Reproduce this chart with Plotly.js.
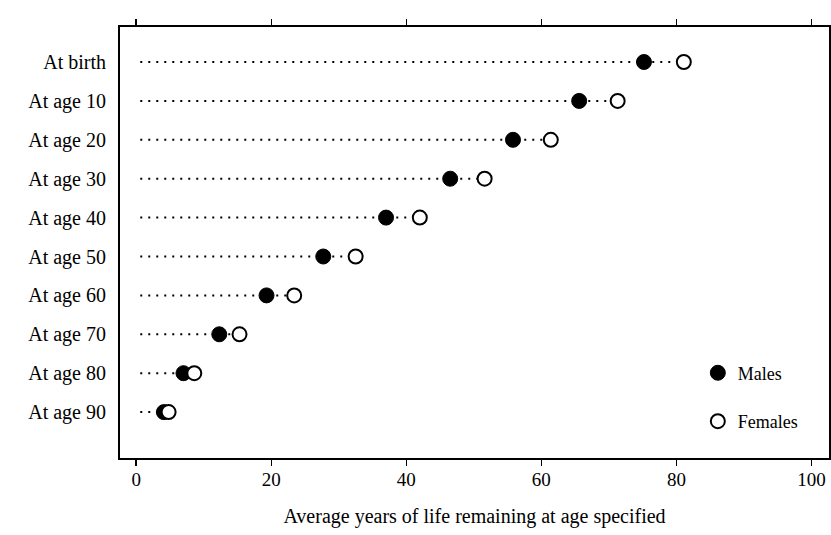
<!DOCTYPE html>
<html>
<head>
<meta charset="utf-8">
<script src="https://cdn.plot.ly/plotly-3.0.1.min.js"></script>
<style>html,body{margin:0;padding:0;background:#fff;}#chart{width:831px;height:535px;}</style>
</head>
<body>
<div id="chart"></div>
<script>
var categories = ["At birth", "At age 10", "At age 20", "At age 30", "At age 40",
                  "At age 50", "At age 60", "At age 70", "At age 80", "At age 90"];
var males   = [75.2, 65.6, 55.8, 46.5, 37.0, 27.7, 19.3, 12.3, 7.0, 4.1];
var females = [81.1, 71.3, 61.4, 51.6, 42.0, 32.5, 23.4, 15.3, 8.6, 4.8];
var xTicks = [0, 20, 40, 60, 80, 100];
var xTitle = "Average years of life remaining at age specified";

var serif = "Liberation Serif, Times New Roman, serif";

// dotted guide lines from 0 to the larger value of each row
var lineX = [], lineY = [];
categories.forEach(function (c, i) {
  lineX.push(0.6, Math.max(males[i], females[i]), null);
  lineY.push(c, c, null);
});

var traces = [
  {
    x: lineX, y: lineY, mode: "lines", type: "scatter",
    line: {color: "#000", width: 2, dash: "2px,6px"},
    showlegend: false, hoverinfo: "skip"
  },
  {
    x: males, y: categories, mode: "markers", type: "scatter", name: "Males",
    legendgroup: "m",
    marker: {symbol: "circle", size: 15, color: "#000", line: {color: "#000", width: 1}}
  },
  {
    x: females, y: categories, mode: "markers", type: "scatter", name: "Females",
    legendgroup: "f",
    marker: {symbol: "circle", size: 14, color: "#fff", line: {color: "#000", width: 2}}
  }
];

var layout = {
  width: 831, height: 535,
  margin: {l: 120, r: 2, t: 27, b: 77},
  paper_bgcolor: "#fff", plot_bgcolor: "#fff",
  font: {family: serif, color: "#000", size: 18},
  showlegend: true,
  legend: {
    x: 0.815, y: 0.24, xanchor: "left", yanchor: "top",
    font: {family: serif, size: 18, color: "#000"},
    bgcolor: "rgba(0,0,0,0)", borderwidth: 0,
    tracegroupgap: 22, itemsizing: "trace", itemwidth: 30
  },
  xaxis: {
    range: [-2.4, 102.6],
    tickvals: xTicks, ticktext: xTicks.map(String),
    ticks: "outside", ticklen: 6, tickwidth: 1.5, tickcolor: "#000",
    showline: true, linecolor: "#000", linewidth: 2, mirror: "ticks",
    showgrid: false, zeroline: false,
    ticklabelstandoff: -3,
    tickfont: {family: serif, size: 19, color: "#000"},
    title: {text: xTitle, font: {family: serif, size: 20, color: "#000"}, standoff: 20}
  },
  yaxis: {
    type: "category",
    categoryorder: "array", categoryarray: categories,
    range: [10.18, -0.9],
    ticks: "", showline: true, linecolor: "#000", linewidth: 2, mirror: true,
    showgrid: false, zeroline: false,
    tickfont: {family: serif, size: 20, color: "#000"},
    ticklabelstandoff: 8
  }
};

Plotly.newPlot("chart", traces, layout, {displayModeBar: false, staticPlot: true});
</script>
</body>
</html>
